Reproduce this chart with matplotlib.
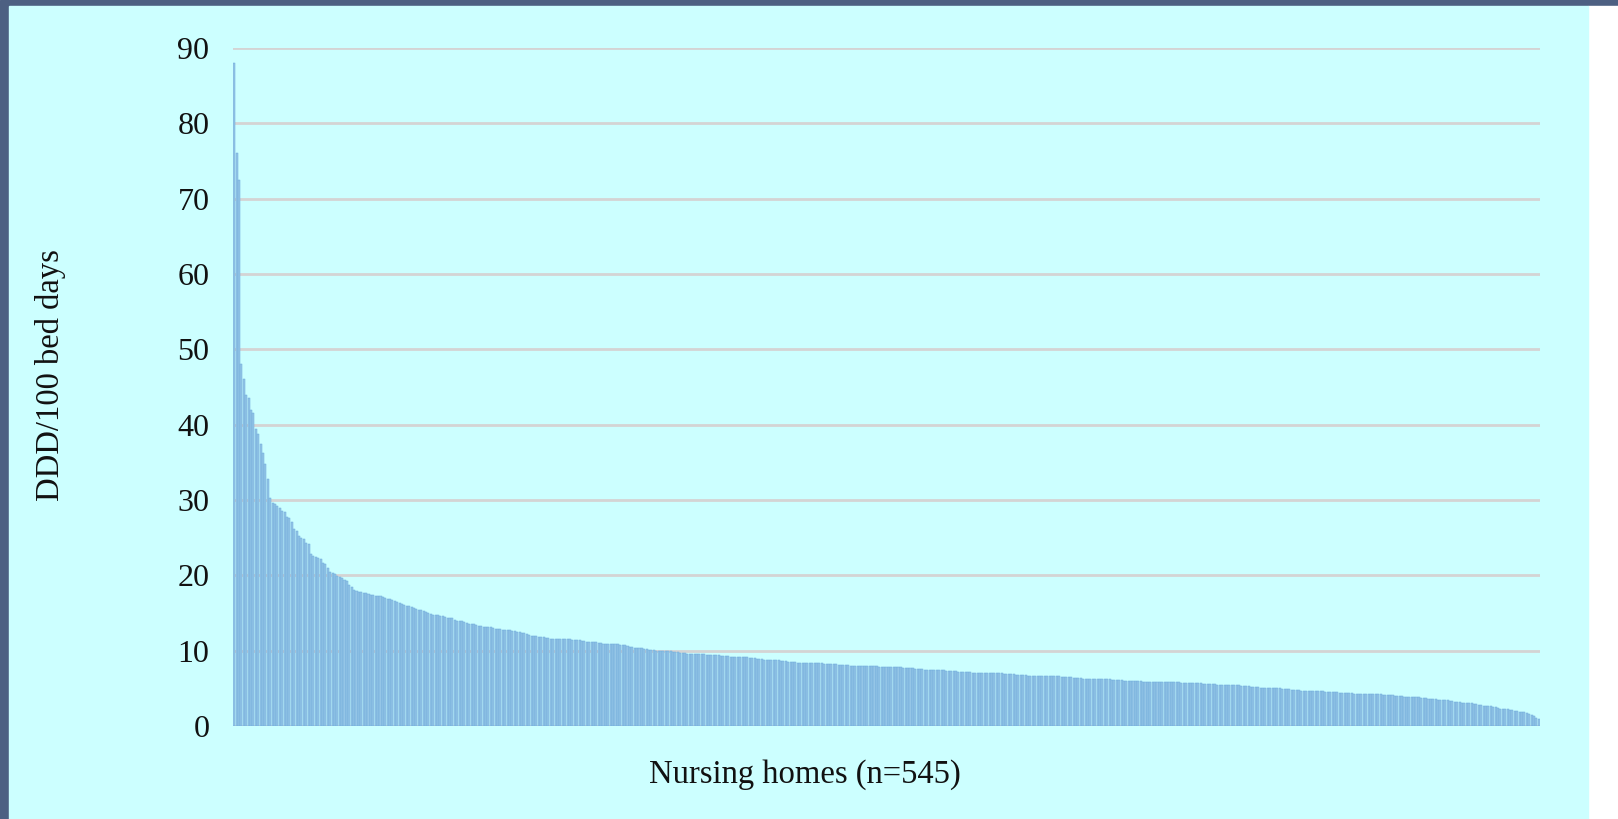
import matplotlib
matplotlib.use('Agg')

import numpy as np
from matplotlib import pyplot as plt
from matplotlib.patches import Rectangle

plt.rcParams['font.family'] = ['Liberation Serif', 'DejaVu Serif']

# DDD/100 bed days per nursing home, sorted high to low
ddd_head = [
    88.0, 76.0, 72.5, 48.0, 46.1, 44.0, 43.6, 41.9, 41.6, 39.4,
    38.8, 37.4, 36.2, 34.8, 32.8, 30.2, 29.6, 29.5, 29.2, 29.0,
    28.6, 28.4, 27.8, 27.6, 27.1, 26.1, 25.9, 25.2, 25.0, 24.8,
    24.3, 24.1, 22.8, 22.6, 22.5, 22.3, 22.2, 21.7, 21.5, 21.0,
    20.4, 20.3, 20.2, 19.9, 19.8, 19.7, 19.4, 19.2, 18.7, 18.5,
    18.1,
]
ddd_mid = [
    17.9, 17.8, 17.8, 17.7, 17.6, 17.5, 17.4, 17.4, 17.3, 17.2,
    17.2, 17.1, 17.0, 16.9, 16.8, 16.7, 16.6, 16.4, 16.3, 16.2,
    16.0, 15.9, 15.9, 15.8, 15.6, 15.5, 15.4, 15.4, 15.3, 15.1,
    15.0, 14.9, 14.8, 14.7, 14.7, 14.6, 14.6, 14.5, 14.4, 14.3,
    14.3, 14.1, 14.0, 14.0, 13.9, 13.8, 13.7, 13.6, 13.6, 13.5,
    13.4, 13.3, 13.3, 13.2, 13.2, 13.1, 13.1, 13.0, 12.9, 12.9,
    12.9, 12.8, 12.8, 12.7, 12.7, 12.6, 12.6, 12.5, 12.5, 12.4,
    12.3, 12.2, 12.1, 12.0, 11.9, 11.9, 11.8, 11.8, 11.8, 11.7,
    11.7, 11.6, 11.6, 11.6, 11.6, 11.5, 11.5, 11.5, 11.5, 11.5,
    11.4, 11.4, 11.4, 11.4, 11.3, 11.3, 11.2, 11.2, 11.2, 11.1,
    11.1, 11.0, 11.0, 10.9, 10.95, 10.9, 10.9, 10.9, 10.85, 10.85,
    10.8, 10.8, 10.7, 10.6, 10.5, 10.5, 10.4, 10.4, 10.3, 10.3,
    10.2, 10.2, 10.1, 10.1, 10.1, 10.0, 10.0, 10.0, 9.9, 9.9,
    9.9, 9.9, 9.8, 9.8, 9.8, 9.7, 9.7, 9.7, 9.6, 9.6,
    9.6, 9.6, 9.5, 9.5, 9.5, 9.5, 9.4, 9.4, 9.4, 9.4,
    9.4, 9.4, 9.3, 9.3, 9.3, 9.3, 9.2, 9.2, 9.2, 9.2,
    9.1, 9.1, 9.1, 9.1, 9.0, 9.0, 9.0, 8.9, 8.9, 8.9,
    8.8, 8.8, 8.8, 8.8, 8.7, 8.7, 8.7, 8.6, 8.6, 8.6,
    8.5, 8.5, 8.5, 8.5, 8.4, 8.4, 8.4, 8.4, 8.4, 8.3,
    8.3, 8.3, 8.3, 8.3, 8.3, 8.2, 8.2, 8.2, 8.2, 8.2,
    8.2, 8.1, 8.1, 8.1, 8.1, 8.1, 8.0, 8.0, 8.0, 8.0,
    8.0, 7.9, 7.9, 7.9, 7.9, 7.9, 7.9, 7.9, 7.8, 7.8,
    7.8, 7.8, 7.8, 7.8, 7.8, 7.8, 7.8, 7.8, 7.7, 7.7,
    7.7, 7.7, 7.7, 7.6, 7.6, 7.6, 7.6,
]
ddd_tail = [
    7.5, 7.5, 7.5, 7.5, 7.5, 7.4, 7.4, 7.4, 7.4, 7.3,
    7.3, 7.3, 7.3, 7.3, 7.2, 7.2, 7.2, 7.2, 7.2, 7.2,
    7.1, 7.1, 7.1, 7.1, 7.1, 7.1, 7.0, 7.0, 7.0, 7.0,
    7.0, 7.0, 7.0, 6.9, 6.9, 6.9, 6.9, 6.9, 6.8,
    6.8, 6.8, 6.8, 6.8, 6.7, 6.7, 6.7, 6.7, 6.7, 6.7,
    6.7, 6.6, 6.6, 6.6, 6.6, 6.6, 6.6, 6.6, 6.5, 6.5,
    6.5, 6.5, 6.5, 6.4, 6.4, 6.4, 6.4, 6.3, 6.3, 6.3,
    6.3, 6.3, 6.3, 6.2, 6.2, 6.2, 6.2, 6.2, 6.2, 6.1,
    6.1, 6.1, 6.1, 6.1, 6.0, 6.0, 6.0, 6.0, 6.0, 6.0,
    6.0, 6.0, 5.9, 5.9, 5.9, 5.9, 5.9, 5.9, 5.9, 5.9,
    5.8, 5.8, 5.8, 5.8, 5.8, 5.8, 5.8, 5.8, 5.7, 5.7,
    5.7, 5.7, 5.7, 5.7, 5.7, 5.7, 5.7, 5.6, 5.6, 5.6,
    5.6, 5.6, 5.6, 5.5, 5.5, 5.5, 5.5, 5.5, 5.5, 5.4,
    5.4, 5.4, 5.4, 5.3, 5.3, 5.3, 5.3, 5.2, 5.2, 5.2,
    5.2, 5.1, 5.1, 5.1, 5.1, 5.0, 5.0, 5.0, 5.0, 5.0,
    4.9, 4.9, 4.9, 4.9, 4.8, 4.8, 4.8, 4.8, 4.7, 4.7,
    4.7, 4.7, 4.6, 4.6, 4.6, 4.6, 4.6, 4.6, 4.5, 4.5,
    4.5, 4.5, 4.5, 4.5, 4.4, 4.4, 4.4, 4.4, 4.4, 4.4,
    4.3, 4.3, 4.3, 4.3, 4.3, 4.3, 4.2, 4.2, 4.2, 4.2,
    4.2, 4.2, 4.1, 4.1, 4.1, 4.1, 4.1, 4.0, 4.0, 4.0,
    4.0, 3.9, 3.9, 3.9, 3.9, 3.8, 3.8, 3.8, 3.7, 3.7,
    3.7, 3.6, 3.6, 3.6, 3.6, 3.5, 3.5, 3.5, 3.4, 3.4,
    3.3, 3.3, 3.2, 3.2, 3.2, 3.1, 3.1, 3.1, 3.0, 3.0,
    2.9, 2.9, 2.8, 2.8, 2.7, 2.7, 2.6, 2.6, 2.5, 2.5,
    2.4, 2.3, 2.3, 2.2, 2.2, 2.1, 2.1, 2.0, 2.0, 1.9,
    1.8, 1.8, 1.7, 1.6, 1.5, 1.3, 1.1, 0.9,
]
ddd = ddd_head + ddd_mid + ddd_tail

y_ticks = list(range(0, 100, 10))

fig = plt.figure(figsize=(16.18, 8.19), dpi=100, facecolor='white')

# slide-style background: dark frame top/left, cyan panel, white strip right
W, H = 1618, 819
fig.patches.append(Rectangle((0, 0), 1, 1, transform=fig.transFigure,
                             color='#4d6082', zorder=-3))
fig.patches.append(Rectangle((1588 / W, 0), 1 - 1588 / W, 1 - 6 / H,
                             transform=fig.transFigure, color='white', zorder=-2))
fig.patches.append(Rectangle((9 / W, 0), (1588 - 9) / W, 1 - 6 / H,
                             transform=fig.transFigure, color='#ccffff', zorder=-2))

ax = fig.add_axes([233 / W, 1 - 726 / H, (1540 - 233) / W, (726 - 48) / H])
ax.set_facecolor('none')

x = np.arange(len(ddd))
ax.bar(x, ddd, width=0.85, color='#95c6e7', edgecolor='#6aa8da',
       linewidth=0.35, zorder=2)

ax.set_xlim(-0.5, len(ddd) - 0.5)
ax.set_ylim(0, 90)
ax.set_yticks(y_ticks)
ax.set_xticks([])
ax.tick_params(axis='y', length=0, pad=17, labelsize=23, labelcolor='#111111')
ax.grid(axis='y', color='#d4d4d4', linewidth=2, zorder=0)
for s in ax.spines.values():
    s.set_visible(False)

fig.text(51 / W, 1 - 375 / H, 'DDD/100 bed days', rotation=90,
         ha='center', va='center', fontsize=23.5, color='#111111')
fig.text(805 / W, 1 - 775 / H, 'Nursing homes (n=545)',
         ha='center', va='center', fontsize=23.5, color='#111111')

fig.savefig('out.png', dpi=100, facecolor=fig.get_facecolor())
plt.close(fig)
